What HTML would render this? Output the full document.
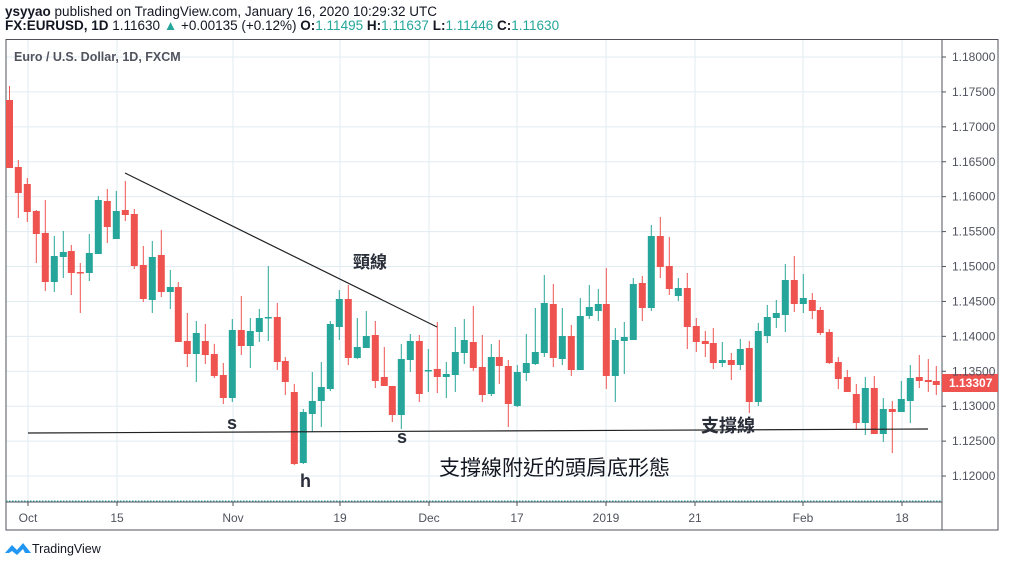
<!DOCTYPE html>
<html><head><meta charset="utf-8"><style>
body{margin:0;background:#fff;width:1024px;height:567px;overflow:hidden;font-family:"Liberation Sans","Noto Sans CJK TC",sans-serif}
</style></head><body>
<svg id="s" width="1024" height="567" xmlns="http://www.w3.org/2000/svg" style="position:absolute;left:0;top:0">
<text x="5" y="16" font-size="13.5" fill="#131722"><tspan font-weight="bold">ysyyao</tspan> published on TradingView.com, January 16, 2020 10:29:32 UTC</text>
<text x="5" y="30" font-size="13.5" fill="#131722"><tspan font-weight="bold">FX:EURUSD, 1D</tspan>  1.11630 <tspan fill="#26a69a">▲</tspan> +0.00135 (+0.12%) <tspan font-weight="bold">O:</tspan><tspan fill="#26a69a">1.11495</tspan> <tspan font-weight="bold">H:</tspan><tspan fill="#26a69a">1.11637</tspan> <tspan font-weight="bold">L:</tspan><tspan fill="#26a69a">1.11446</tspan> <tspan font-weight="bold">C:</tspan><tspan fill="#26a69a">1.11630</tspan></text>
<g id="grid"></g>
<rect x="6" y="39.5" width="992" height="490.5" fill="none" stroke="#50535e" stroke-width="1"/>
<line x1="942" y1="40" x2="942" y2="530" stroke="#50535e"/>
<line x1="6" y1="502" x2="942" y2="502" stroke="#50535e"/>
<line x1="6" y1="501" x2="942" y2="501" stroke="#26a69a" stroke-dasharray="1.5,1.5"/>
<text x="14" y="61" font-size="12.5" fill="#50535e" font-weight="bold">Euro / U.S. Dollar, 1D, FXCM</text>
<g id="c"></g>
<line x1="125" y1="173" x2="437" y2="327" stroke="#222" stroke-width="1.2"/>
<line x1="28" y1="433" x2="928" y2="429" stroke="#222" stroke-width="1.2"/>
<text x="353" y="268" font-size="17" font-weight="bold" fill="#2a2e39">頸線</text>
<text x="227" y="429" font-size="18" font-weight="bold" fill="#2a2e39">s</text>
<text x="397" y="443" font-size="18" font-weight="bold" fill="#2a2e39">s</text>
<text x="300" y="487" font-size="18" font-weight="bold" fill="#2a2e39">h</text>
<text x="701" y="432" font-size="18" font-weight="bold" fill="#2a2e39">支撐線</text>
<text x="439" y="475" font-size="21" fill="#131722">支撐線附近的頭肩底形態</text>
<rect x="942" y="374" width="56" height="18" fill="#ef5350"/>
<text x="949" y="387" font-size="12" font-weight="bold" fill="#fff">1.13307</text>
<g id="tl" font-size="12" fill="#50535e"></g>
<g transform="translate(5,540)"><path d="M0 13 L7 5 L12 10 L18 3 L26 13 L20 13 L18 9 L12 15 L7 11 L4 13 Z" fill="#2196f3"/></g>
<text x="32" y="553" font-size="12.5" fill="#131722">TradingView</text>
</svg>
<script>
var NS="http://www.w3.org/2000/svg";
function el(p,t,a){var e=document.createElementNS(NS,t);for(var k in a)e.setAttribute(k,a[k]);p.appendChild(e);return e;}
var g=document.getElementById('grid'),tl=document.getElementById('tl');
var vx=[[28,"Oct"],[117,"15"],[233,"Nov"],[340,"19"],[429,"Dec"],[517,"17"],[606,"2019"],[695,"21"],[803,"Feb"],[902,"18"]];
vx.forEach(function(v){el(g,'line',{x1:v[0],y1:40,x2:v[0],y2:502,stroke:'#e1ecf2'});el(g,'line',{x1:v[0],y1:502,x2:v[0],y2:506,stroke:'#50535e'});var t=el(tl,'text',{x:v[0],y:522,'text-anchor':'middle'});t.textContent=v[1];});
for(var i=0;i<13;i++){var y=57+i*34.92;el(g,'line',{x1:6,y1:y,x2:942,y2:y,stroke:'#e1ecf2'});el(g,'line',{x1:942,y1:y,x2:946,y2:y,stroke:'#50535e'});var t=el(tl,'text',{x:952,y:y+4});t.textContent=(1.18-i*0.005).toFixed(5);}
var C=[
[9.5,86,168,100,168,0],[18.3,160,218,167,193,0],[27.3,178,222,184,212,0],[36.3,210,263,211,234,0],[45.3,200,291,233,282,0],
[54.3,236,292,256,282,1],[63.3,231,278,252,257,1],[71.3,245,295,251,273,0],[80.3,263,313,272,273,0],[89.3,234,281,253,273,1],
[98.3,196,254,200,254,1],[107.3,189,243,201,227,0],[116.3,191,239,211,239,1],[125.3,181,221,210,215,0],[134.3,209,269,214,266,0],
[143.3,246,302,265,299,0],[152.3,241,313,257,300,1],[161.3,230,297,255,292,0],[170.3,270,309,287,292,1],[178.3,282,342,287,342,0],
[187.3,313,367,341,354,0],[196.3,321,382,333,354,1],[205.3,324,364,341,355,0],[214.3,344,378,354,376,0],[223.3,363,404,375,398,0],
[232.3,319,402,330,398,1],[241.3,296,355,330,346,0],[250.3,318,368,331,346,1],[259.3,309,342,318,332,1],[268.3,266,341,317,318,1],
[277.3,303,370,317,362,0],[285.3,357,395,361,382,0],[294.3,384,465,392,464,0],[303.3,409,464,412,463,1],[312.3,372,432,401,414,1],
[321.3,362,427,387,401,1],[330.3,321,391,324,389,1],[339.3,290,340,299,327,1],[348.3,285,365,299,358,0],[357.3,318,359,347,358,1],
[366.3,311,348,336,348,1],[375.3,321,388,335,381,0],[384.3,347,386,377,386,0],[392.3,386,422,386,415,0],[401.3,344,429,359,415,1],
[410.3,334,372,341,360,1],[419.3,335,402,341,394,0],[428.3,349,392,370,371,1],[437.3,322,393,369,377,0],[446.3,362,398,374,377,1],
[455.3,327,392,352,375,1],[464.3,319,364,340,353,1],[473.3,306,371,342,368,0],[482.3,335,402,367,395,0],[491.3,344,396,357,394,1],
[499.3,340,384,357,366,0],[508.3,360,427,366,404,0],[517.3,365,407,372,406,1],[526.3,334,381,363,373,1],[535.3,308,365,352,364,1],
[544.3,275,357,303,353,1],[553.3,284,367,304,358,0],[562.3,308,365,336,359,1],[571.3,325,376,336,370,0],[580.3,298,370,316,370,1],
[589.3,285,319,307,316,1],[598.3,289,321,304,311,1],[606.3,268,389,304,376,0],[615.3,328,402,340,376,1],[624.3,322,374,337,341,1],
[633.3,278,340,284,340,1],[642.3,276,321,283,308,0],[651.3,225,311,236,308,1],[660.3,217,278,236,267,0],[669.3,237,295,266,289,0],
[678.3,278,301,288,296,1],[687.3,273,349,288,327,0],[696.3,318,352,326,342,0],[705.3,331,357,341,344,0],[713.3,328,369,343,363,0],
[722.3,342,367,360,363,1],[731.3,353,380,360,365,0],[740.3,339,370,349,365,1],[749.3,341,413,348,402,0],[758.3,323,406,331,402,1],
[767.3,305,343,317,336,1],[776.3,300,328,313,318,1],[785.3,264,332,280,315,1],[794.3,256,312,280,304,0],[803.3,274,313,298,304,1],
[812.3,293,319,300,311,0],[820.3,307,335,310,333,0],[829.3,329,364,332,363,0],[838.3,357,389,362,379,0],[847.3,370,392,377,392,0],
[856.3,384,429,394,423,0],[865.3,377,435,388,423,1],[874.3,376,434,388,434,0],[883.3,398,442,409,434,1],[892.3,401,453,409,412,0],
[901.3,381,412,399,412,1],[910.3,365,423,378,401,1],[919.3,355,388,377,381,0],[928.3,359,392,380,382,0],[936.3,366,395,381,385,0]];
var cg=document.getElementById('c');
C.forEach(function(c){var col=c[5]?'#26a69a':'#ef5350';
el(cg,'line',{x1:c[0],y1:c[1],x2:c[0],y2:c[2],stroke:col,'stroke-width':1});
el(cg,'rect',{x:c[0]-3.5,y:c[3],width:7,height:Math.max(1.5,c[4]-c[3]),fill:col});});
</script>
</body></html>
